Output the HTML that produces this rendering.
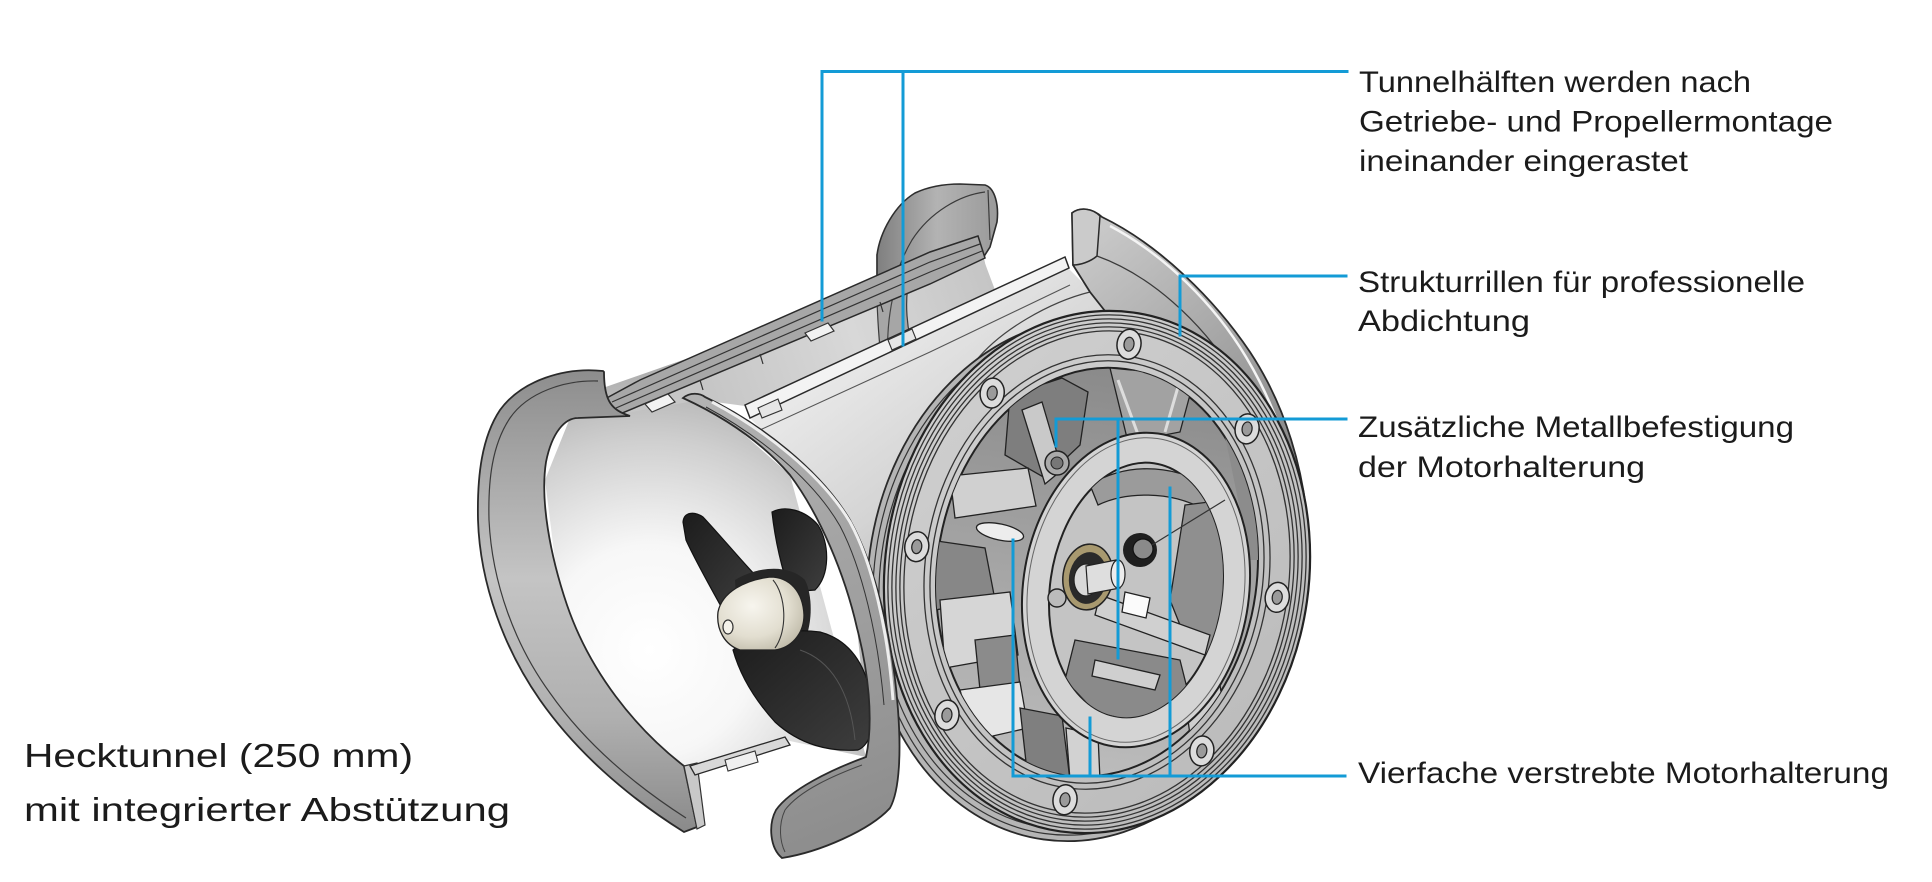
<!DOCTYPE html>
<html><head><meta charset="utf-8">
<style>
html,body{margin:0;padding:0;background:#fff;}
svg{display:block;}
text{font-family:"Liberation Sans",Arial,sans-serif;fill:#1b1b1b;}
</style></head><body>
<svg width="1932" height="882" viewBox="0 0 1932 882" xmlns="http://www.w3.org/2000/svg">
<defs>
 <radialGradient id="gB" gradientUnits="userSpaceOnUse" cx="650" cy="650" r="300">
  <stop offset="0" stop-color="#ffffff"/>
  <stop offset="0.35" stop-color="#f7f7f7"/>
  <stop offset="0.7" stop-color="#cfcfcf"/>
  <stop offset="1" stop-color="#a5a5a5"/>
 </radialGradient>
 <linearGradient id="gC" gradientUnits="userSpaceOnUse" x1="700" y1="360" x2="990" y2="260">
  <stop offset="0" stop-color="#c6c6c6"/>
  <stop offset="0.5" stop-color="#d8d8d8"/>
  <stop offset="1" stop-color="#c4c4c4"/>
 </linearGradient>
 <linearGradient id="gA" x1="0" y1="0" x2="0" y2="1">
  <stop offset="0" stop-color="#8d8d8d"/>
  <stop offset="0.45" stop-color="#c4c4c4"/>
  <stop offset="0.75" stop-color="#b0b0b0"/>
  <stop offset="1" stop-color="#8a8a8a"/>
 </linearGradient>
 <linearGradient id="gEar" x1="0" y1="0" x2="1" y2="0">
  <stop offset="0" stop-color="#7f7f7f"/>
  <stop offset="0.5" stop-color="#b3b3b3"/>
  <stop offset="1" stop-color="#9a9a9a"/>
 </linearGradient>
 <linearGradient id="gD" gradientUnits="userSpaceOnUse" x1="780" y1="360" x2="960" y2="600">
  <stop offset="0" stop-color="#eeeeee"/>
  <stop offset="0.6" stop-color="#d4d4d4"/>
  <stop offset="1" stop-color="#b5b5b5"/>
 </linearGradient>
 <linearGradient id="gE" gradientUnits="userSpaceOnUse" x1="1100" y1="230" x2="1300" y2="480">
  <stop offset="0" stop-color="#c8c8c8"/>
  <stop offset="0.5" stop-color="#a6a6a6"/>
  <stop offset="1" stop-color="#828282"/>
 </linearGradient>
 <linearGradient id="gJ" gradientUnits="userSpaceOnUse" x1="700" y1="400" x2="880" y2="840">
  <stop offset="0" stop-color="#b2b2b2"/>
  <stop offset="0.5" stop-color="#a0a0a0"/>
  <stop offset="1" stop-color="#8c8c8c"/>
 </linearGradient>
 <linearGradient id="gRing" x1="0" y1="0" x2="1" y2="1">
  <stop offset="0" stop-color="#d2d2d2"/>
  <stop offset="1" stop-color="#b8b8b8"/>
 </linearGradient>
 <linearGradient id="gIn" x1="0" y1="0" x2="0" y2="1">
  <stop offset="0" stop-color="#8a8a8a"/>
  <stop offset="0.5" stop-color="#a4a4a4"/>
  <stop offset="1" stop-color="#bcbcbc"/>
 </linearGradient>
 <radialGradient id="gHub" cx="0.4" cy="0.4" r="0.7">
  <stop offset="0" stop-color="#f7f5ee"/>
  <stop offset="0.6" stop-color="#e2ded0"/>
  <stop offset="1" stop-color="#bdb8a6"/>
 </radialGradient>
 <linearGradient id="gProp" x1="0" y1="0" x2="1" y2="1">
  <stop offset="0" stop-color="#1c1c1c"/>
  <stop offset="1" stop-color="#3e3e3e"/>
 </linearGradient>
 <clipPath id="cRing"><ellipse cx="0" cy="0" rx="160" ry="205" transform="translate(1097,572) rotate(8)"/></clipPath>
 <clipPath id="cMot"><ellipse cx="0" cy="0" rx="86" ry="128" transform="translate(1136,590) rotate(8)"/></clipPath>
</defs>

<!-- B: interior of lower-left shell -->
<path d="M597,390 L983,255 L992,292 L703,398 L790,475 L866,757 L785,740 L690,770 L630,720 L560,600 L545,480 L570,418 Z" fill="url(#gB)"/>
<!-- C: band between ridge and strip -->
<path d="M620,414 L983,258 L995,290 L745,406 L700,400 Z" fill="url(#gC)"/>

<!-- Ear (far flange of back shell) -->
<path d="M877,255 L877,300 C878,330 880,350 883,378 L916,360 C906,330 904,300 910,275 Z" fill="#a6a6a6" stroke="#3a3a3a" stroke-width="1.2"/>
<path d="M900,272 C890,300 886,330 888,365" stroke="#444" stroke-width="1.2" fill="none"/>
<path d="M877,292 L877,255 C880,232 895,205 915,193 C930,186 945,184 960,184 L985,185 C995,188 999,205 997,222 L990,247 L983,258 Z" fill="url(#gEar)" stroke="#2e2e2e" stroke-width="1.6"/>
<path d="M985,192 C960,195 930,212 912,240 C900,260 895,280 893,286" stroke="#3a3a3a" stroke-width="1.2" fill="none"/>
<path d="M988,190 L990,240" stroke="#3a3a3a" stroke-width="1.2" fill="none"/>

<!-- Ridge -->
<path d="M603,400 L640,380 L930,252 L978,236 L985,258 L930,284 L620,414 Z" fill="#a7a7a7" stroke="#2a2a2a" stroke-width="1.5"/>
<path d="M612,402 L930,262 L980,244" stroke="#333" stroke-width="1.2" fill="none"/>
<path d="M616,408 L930,272 L982,251" stroke="#333" stroke-width="1.2" fill="none"/>
<path d="M645,404 L668,394 L675,402 L652,412 Z" fill="#f2f2f2" stroke="#333" stroke-width="1.2"/>
<path d="M805,333 L828,323 L834,331 L811,341 Z" fill="#f2f2f2" stroke="#333" stroke-width="1.2"/>
<path d="M700,380 L703,390 M760,354 L763,364 M880,302 L883,312" stroke="#333" stroke-width="1.2"/>

<!-- D: front tube exterior -->
<path d="M750,418 L930,334 L1068,268 L1100,300 L1140,318 L960,420 L905,600 L900,760 L870,757 L857,628 L845,540 L800,470 Z" fill="url(#gD)"/>
<path d="M1090,292 C1050,302 1000,330 975,362" stroke="#444" stroke-width="1.2" fill="none"/>

<!-- Strip (tube top edge) -->
<path d="M745,405 L1065,257 L1069,268 L750,418 Z" fill="#f3f3f3" stroke="#2a2a2a" stroke-width="1.5"/>
<path d="M760,430 L930,352 L1070,285" stroke="#555" stroke-width="1.1" fill="none"/>
<path d="M888,340 L912,329 L916,339 L892,350 Z" fill="#e6e6e6" stroke="#333" stroke-width="1.1"/>
<path d="M758,408 L778,399 L782,410 L762,418 Z" fill="#e6e6e6" stroke="#333" stroke-width="1.1"/>

<!-- E: right flange -->
<path d="M1072,213 C1080,207 1092,208 1102,217 C1160,245 1215,300 1250,352 C1285,405 1305,470 1309,540 L1300,560 L1200,460 L1120,330 L1090,292 L1073,265 Z" fill="url(#gE)" stroke="#2a2a2a" stroke-width="1.8"/>
<path d="M1110,226 C1165,255 1215,305 1246,357 C1278,410 1297,470 1302,535" stroke="#f4f4f4" stroke-width="2.5" fill="none"/>
<path d="M1072,213 C1080,207 1092,208 1100,216 L1097,256 C1090,262 1080,265 1073,265 Z" fill="#cbcbcb" stroke="#2a2a2a" stroke-width="1.5"/>
<path d="M1097,256 C1150,275 1200,320 1235,375" stroke="#3a3a3a" stroke-width="1.2" fill="none"/>

<!-- Back flange behind front ring -->
<g transform="translate(1080,580) rotate(8)">
 <ellipse rx="212" ry="262" fill="#b5b5b5" stroke="#2a2a2a" stroke-width="1.8"/>
 <ellipse rx="206" ry="256" fill="none" stroke="#333" stroke-width="1.2"/>
 <ellipse rx="200" ry="250" fill="none" stroke="#333" stroke-width="1.2"/>
</g>

<!-- Front ring -->
<g transform="translate(1097,572) rotate(8)">
 <ellipse rx="212" ry="262" fill="url(#gRing)" stroke="#222" stroke-width="2.2"/>
 <ellipse rx="208" ry="258" fill="none" stroke="#333" stroke-width="1.3"/>
 <ellipse rx="204" ry="254" fill="none" stroke="#333" stroke-width="1.3"/>
 <ellipse rx="200" ry="250" fill="none" stroke="#333" stroke-width="1.3"/>
 <ellipse rx="196" ry="246" fill="none" stroke="#333" stroke-width="1.3"/>
 <ellipse rx="192" ry="242" fill="none" stroke="#333" stroke-width="1.3"/>
 <ellipse rx="172" ry="218" fill="none" stroke="#333" stroke-width="1.3"/>
 <ellipse rx="166" ry="212" fill="none" stroke="#333" stroke-width="1.3"/>
 <ellipse rx="160" ry="205" fill="url(#gIn)" stroke="#222" stroke-width="2"/>
 <g fill="#dcdcdc" stroke="#222" stroke-width="1.5">
  <ellipse cx="0" cy="-230" rx="12" ry="15"/>
  <ellipse cx="128.7" cy="-162.6" rx="12" ry="15"/>
  <ellipse cx="182" cy="0" rx="12" ry="15"/>
  <ellipse cx="128.7" cy="162.6" rx="12" ry="15"/>
  <ellipse cx="0" cy="230" rx="12" ry="15"/>
  <ellipse cx="-128.7" cy="162.6" rx="12" ry="15"/>
  <ellipse cx="-182" cy="0" rx="12" ry="15"/>
  <ellipse cx="-128.7" cy="-162.6" rx="12" ry="15"/>
 </g>
 <g fill="#9a9a9a" stroke="#222" stroke-width="1.2">
  <ellipse cx="0" cy="-230" rx="5" ry="7"/>
  <ellipse cx="128.7" cy="-162.6" rx="5" ry="7"/>
  <ellipse cx="182" cy="0" rx="5" ry="7"/>
  <ellipse cx="128.7" cy="162.6" rx="5" ry="7"/>
  <ellipse cx="0" cy="230" rx="5" ry="7"/>
  <ellipse cx="-128.7" cy="162.6" rx="5" ry="7"/>
  <ellipse cx="-182" cy="0" rx="5" ry="7"/>
  <ellipse cx="-128.7" cy="-162.6" rx="5" ry="7"/>
 </g>
</g>

<!-- Ring interior details -->
<g clip-path="url(#cRing)" stroke="#222" stroke-width="1.3">
 <path d="M1010,395 L1062,378 L1088,392 L1080,445 L1045,478 L1005,455 Z" fill="#7e7e7e"/>
 <path d="M1022,410 L1042,402 L1062,470 L1045,484 Z" fill="#c9c9c9"/>
 <path d="M1110,368 L1195,376 L1180,432 L1128,442 Z" fill="#a2a2a2"/>
 <path d="M1118,380 L1140,440 M1180,380 L1165,432" stroke="#dddddd" stroke-width="3"/>
 <path d="M1215,390 L1275,430 L1290,560 L1250,560 L1230,460 Z" fill="#8c8c8c" stroke="none"/>
 <path d="M950,476 L1028,468 L1036,506 L955,518 Z" fill="#d0d0d0"/>
 <ellipse cx="1000" cy="532" rx="24" ry="8" transform="rotate(12 1000 532)" fill="#ededed"/>
 <path d="M930,540 L985,548 L995,600 L935,610 Z" fill="#878787"/>
 <path d="M940,600 L1010,592 L1018,655 L945,668 Z" fill="#d6d6d6"/>
 <path d="M975,640 L1015,635 L1020,688 L980,690 Z" fill="#8b8b8b"/>
 <path d="M960,690 L1020,682 L1028,728 L975,740 Z" fill="#e6e6e6"/>
 <path d="M1020,708 L1062,716 L1070,780 L1028,780 Z" fill="#7f7f7f"/>
 <path d="M1066,728 L1098,735 L1100,780 L1070,780 Z" fill="#d2d2d2"/>
 <path d="M1180,660 L1215,650 L1225,720 L1190,735 Z" fill="#cfcfcf"/>
</g>
<circle cx="1057" cy="463" r="12" fill="#aaaaaa" stroke="#222" stroke-width="1.5"/>
<circle cx="1057" cy="463" r="6" fill="#777" stroke="#222" stroke-width="1"/>

<!-- Motor mount ring -->
<g transform="translate(1136,590) rotate(8)">
 <ellipse rx="113" ry="158" fill="#d4d4d4" stroke="#222" stroke-width="2"/>
 <ellipse rx="108" ry="153" fill="none" stroke="#666" stroke-width="1"/>
 <ellipse rx="86" ry="128" fill="#c4c4c4" stroke="#222" stroke-width="2"/>
</g>
<g clip-path="url(#cMot)" stroke="#222" stroke-width="1.3">
 <path d="M1090,485 C1120,465 1170,460 1215,490 L1205,510 C1170,490 1125,492 1098,505 Z" fill="#9b9b9b"/>
 <path d="M1185,505 L1225,500 C1245,530 1248,600 1235,660 L1190,650 L1170,600 Z" fill="#8f8f8f"/>
 <path d="M1225,503 C1242,530 1246,570 1240,600 L1228,598 C1232,570 1230,535 1218,510 Z" fill="#dadada"/>
 <path d="M1100,595 L1210,635 L1205,655 L1095,615 Z" fill="#d0d0d0"/>
 <path d="M1075,640 L1180,660 L1190,700 L1150,725 L1095,712 L1065,680 Z" fill="#8a8a8a"/>
 <path d="M1095,660 L1160,675 L1155,690 L1092,676 Z" fill="#cfcfcf"/>
 <path d="M1125,592 L1150,598 L1146,618 L1122,612 Z" fill="#fbfbfb"/>
</g>
<ellipse cx="1088" cy="577" rx="25" ry="33" transform="rotate(8 1088 577)" fill="#a8996f" stroke="#222" stroke-width="1.5"/>
<ellipse cx="1088" cy="578" rx="19" ry="26" transform="rotate(8 1088 578)" fill="#2a2a2a"/>
<ellipse cx="1086" cy="580" rx="12" ry="16" fill="#d9d9d9" stroke="#222" stroke-width="1.2"/>
<path d="M1086,566 L1116,560 L1120,588 L1088,594 Z" fill="#dedede" stroke="#222" stroke-width="1.2"/>
<ellipse cx="1118" cy="574" rx="7" ry="14" fill="#ececec" stroke="#222" stroke-width="1.2"/>
<circle cx="1140" cy="550" r="17" fill="#1f1f1f"/>
<circle cx="1143" cy="549" r="10" fill="#8a8a8a" stroke="#111" stroke-width="1.2"/>
<path d="M1152,545 L1225,500" stroke="#333" stroke-width="1.2"/>
<circle cx="1057" cy="598" r="9" fill="#bbbbbb" stroke="#222" stroke-width="1.4"/>

<!-- Propeller -->
<path d="M772,512 C785,505 805,510 818,525 C830,545 830,575 815,590 L790,592 C782,570 775,540 772,512 Z" fill="url(#gProp)" stroke="#111" stroke-width="1.2"/>
<path d="M683,522 C684,512 694,511 703,517 C720,535 745,565 758,578 L745,592 C735,600 728,606 723,610 C712,590 695,560 686,540 Z" fill="url(#gProp)" stroke="#111" stroke-width="1.2"/>
<path d="M735,580 C760,565 790,565 805,580 C815,600 812,640 795,655 L740,655 Z" fill="#262626"/>
<path d="M733,650 C750,635 790,628 820,632 C850,640 866,665 872,700 C876,725 870,745 858,750 C830,752 800,745 775,722 C755,700 740,675 733,650 Z" fill="url(#gProp)" stroke="#111" stroke-width="1.2"/>
<path d="M800,650 C830,660 850,690 855,740" stroke="#555" stroke-width="1" fill="none"/>
<path d="M718,612 C722,592 745,580 770,577 C790,577 803,592 804,615 C804,635 790,648 775,650 L740,650 C725,645 716,630 718,612 Z" fill="url(#gHub)" stroke="#222" stroke-width="1.3"/>
<path d="M773,580 C786,595 788,630 775,648" stroke="#333" stroke-width="1.1" fill="none"/>
<ellipse cx="728" cy="627" rx="5" ry="7" fill="#f4f2ea" stroke="#333" stroke-width="1.2"/>

<!-- A: bell band of left shell -->
<path d="M603,371 C565,367 522,380 500,410 C482,437 477,475 478,520 C480,585 505,650 540,700 C575,750 625,795 684,832 L697,827 L684,766 C635,728 590,672 567,605 C550,555 540,500 546,462 C552,432 565,418 578,418 L630,416 C612,410 604,402 604,372 Z" fill="url(#gA)" stroke="#2a2a2a" stroke-width="1.8"/>
<path d="M598,381 C565,380 528,392 510,418 C492,445 488,480 489,520 C492,583 515,645 550,693 C583,740 630,782 686,818" stroke="#3a3a3a" stroke-width="1.2" fill="none"/>
<path d="M684,766 L697,763 L705,825 L697,829 Z" fill="#c8c8c8" stroke="#333" stroke-width="1.2"/>

<!-- J: rim band + foot -->
<path d="M683,398 C690,392 700,393 705,397 C760,423 820,470 850,520 C875,565 893,640 898,710 C901,750 900,790 890,808 C870,830 820,852 782,858 C770,848 768,825 776,810 C790,790 830,770 866,757 C874,720 868,670 857,628 C845,575 820,515 790,475 C760,440 720,415 683,398 Z" fill="url(#gJ)" stroke="#2a2a2a" stroke-width="1.8"/>
<path d="M712,402 C765,430 822,475 850,522 C872,562 888,630 893,700" stroke="#eeeeee" stroke-width="3" fill="none"/>
<path d="M706,407 C758,435 813,479 840,526 C862,568 878,635 884,705" stroke="#333" stroke-width="1" fill="none"/>
<path d="M862,765 C835,775 800,790 785,810 C778,825 780,842 785,852" stroke="#444" stroke-width="1" fill="none"/>

<!-- slot strip -->
<path d="M690,766 L785,737 L790,745 L695,775 Z" fill="#d8d8d8" stroke="#2a2a2a" stroke-width="1.3"/>
<path d="M725,760 L755,751 L758,762 L728,771 Z" fill="#f0f0f0" stroke="#333" stroke-width="1.1"/>

<!-- Blue leader lines -->
<g stroke="#139bd6" stroke-width="3" fill="none" stroke-linecap="square">
 <path d="M822,320 L822,71.5 L1347,71.5"/>
 <path d="M903,345 L903,71.5"/>
 <path d="M1180,335 L1180,276 L1346,276"/>
 <path d="M1056,446 L1056,419 L1346,419"/>
 <path d="M1118,658 L1118,419"/>
 <path d="M1013,540 L1013,776 L1345,776"/>
 <path d="M1090,718 L1090,776"/>
 <path d="M1170,488 L1170,776"/>
</g>

<!-- Labels -->
<text x="1359" y="92" font-size="29.5" textLength="392" lengthAdjust="spacingAndGlyphs">Tunnelhälften werden nach</text>
<text x="1359" y="131.5" font-size="29.5" textLength="474" lengthAdjust="spacingAndGlyphs">Getriebe- und Propellermontage</text>
<text x="1359" y="171" font-size="29.5" textLength="329" lengthAdjust="spacingAndGlyphs">ineinander eingerastet</text>
<text x="1358" y="292" font-size="29.5" textLength="447" lengthAdjust="spacingAndGlyphs">Strukturrillen für professionelle</text>
<text x="1358" y="331" font-size="29.5" textLength="172" lengthAdjust="spacingAndGlyphs">Abdichtung</text>
<text x="1358" y="437" font-size="29.5" textLength="436" lengthAdjust="spacingAndGlyphs">Zusätzliche Metallbefestigung</text>
<text x="1358" y="477" font-size="29.5" textLength="287" lengthAdjust="spacingAndGlyphs">der Motorhalterung</text>
<text x="1358" y="783" font-size="29.5" textLength="531" lengthAdjust="spacingAndGlyphs">Vierfache verstrebte Motorhalterung</text>
<text x="24" y="767" font-size="33.5" textLength="389" lengthAdjust="spacingAndGlyphs">Hecktunnel (250 mm)</text>
<text x="24" y="821" font-size="33.5" textLength="486" lengthAdjust="spacingAndGlyphs">mit integrierter Abstützung</text>
</svg>
</body></html>
